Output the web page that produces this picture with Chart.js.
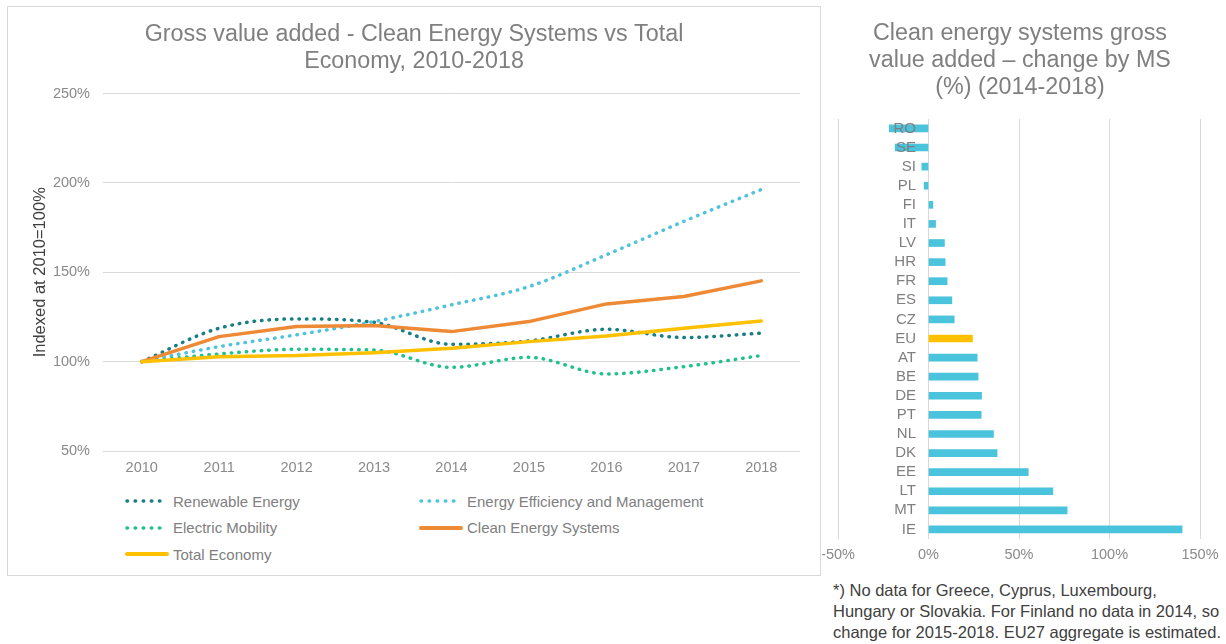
<!DOCTYPE html>
<html lang="en">
<head>
<meta charset="UTF-8">
<title>Clean Energy Systems - gross value added</title>
<script src="https://cdn.jsdelivr.net/npm/chart.js"></script>
<style>
  body {
    margin: 0;
    width: 1226px;
    height: 644px;
    overflow: hidden;
    background: #fff;
    position: relative;
    font-family: "Liberation Sans", Arial, sans-serif;
  }
  #box {
    position: absolute;
    left: 7px; top: 6px;
    width: 812px; height: 568px;
    border: 1px solid #d9d9d9;
  }
  #lineWrap { position: absolute; left: 8px; top: 7px; width: 812px; height: 480px; }
  #barWrap { position: absolute; left: 822px; top: 6px; width: 404px; height: 574px; }
  #legend {
    position: absolute;
    left: 125px; top: 488px;
    display: grid;
    grid-template-columns: 294px 300px;
    grid-auto-rows: 26.5px;
    font-size: 15px;
    color: #808080;
  }
  #legend .item { display: flex; align-items: center; white-space: nowrap; }
  #legend svg { margin-right: 3px; }
  #note {
    position: absolute;
    left: 833px; top: 580px;
    font-size: 16.5px;
    line-height: 21px;
    color: #404040;
    white-space: nowrap;
  }
</style>
</head>
<body>
<div id="box"></div>
<div id="lineWrap"><canvas id="lineChart"></canvas></div>
<div id="legend"></div>
<div id="barWrap"><canvas id="barChart"></canvas></div>
<div id="note">*) No data for Greece, Cyprus, Luxembourg,<br>Hungary or Slovakia. For Finland no data in 2014, so<br>change for 2015-2018. EU27 aggregate is estimated.</div>

<script>
  // left chart: index 2010 = 100%
  const years = ["2010", "2011", "2012", "2013", "2014", "2015", "2016", "2017", "2018"];
  const renewable = [100, 118.7, 123.9, 122.0, 109.7, 111.6, 118.1, 113.5, 115.9];
  const efficiency = [100, 108.4, 115.0, 122.4, 131.8, 142.0, 159.8, 178.5, 196.3];
  const mobility = [100, 104.3, 106.9, 106.5, 96.8, 102.4, 93.1, 97.2, 103.4];
  const cleanEnergy = [100, 114.0, 119.6, 120.2, 116.8, 122.4, 132.3, 136.4, 145.2];
  const totalEconomy = [100, 102.8, 103.4, 105.0, 107.5, 111.2, 114.4, 118.7, 122.8];

  // right chart: % change 2014-2018 by member state
  const countries = ["RO", "SE", "SI", "PL", "FI", "IT", "LV", "HR", "FR", "ES", "CZ", "EU",
                     "AT", "BE", "DE", "PT", "NL", "DK", "EE", "LT", "MT", "IE"];
  const changes = [-21.7, -18.4, -3.7, -2.4, 2.4, 3.9, 8.8, 9.2, 10.3, 12.9, 14.2, 24.3,
                   26.9, 27.4, 29.3, 29.1, 35.9, 37.9, 55.1, 68.7, 76.6, 140.1];

  const FONT = '"Liberation Sans", Arial, sans-serif';
  const GRID = "#d9d9d9";
  const TICK = "#8a8a8a";

  const dotted = { borderWidth: 3.5, borderDash: [0.5, 7], borderCapStyle: "round", cubicInterpolationMode: "monotone" };
  const solid = { borderWidth: 3.5, borderCapStyle: "round", borderJoinStyle: "round", tension: 0 };

  const lineSets = [
    { label: "Renewable Energy", data: renewable, borderColor: "#197d86", order: 5, ...dotted },
    { label: "Energy Efficiency and Management", data: efficiency, borderColor: "#4fc3dc", order: 4, ...dotted },
    { label: "Electric Mobility", data: mobility, borderColor: "#22c08c", order: 3, ...dotted },
    { label: "Clean Energy Systems", data: cleanEnergy, borderColor: "#ee8a35", order: 2, ...solid },
    { label: "Total Economy", data: totalEconomy, borderColor: "#ffc000", order: 1, ...solid }
  ];

  const lineChart = new Chart(document.getElementById("lineChart"), {
    type: "line",
    data: { labels: years, datasets: lineSets },
    options: {
      responsive: true,
      maintainAspectRatio: false,
      animation: false,
      elements: { point: { radius: 0 } },
      plugins: {
        legend: { display: false },
        tooltip: { enabled: false },
        title: {
          display: true,
          text: ["Gross value added - Clean Energy Systems vs Total", "Economy, 2010-2018"],
          color: "#7f7f7f",
          font: { family: FONT, size: 23.3, weight: "normal", lineHeight: 1.16 },
          padding: { top: 14, bottom: 18.5 }
        }
      },
      scales: {
        x: {
          offset: true,
          grid: { display: false, drawTicks: false },
          border: { display: false },
          ticks: { color: TICK, font: { family: FONT, size: 14.5 }, padding: 8, maxRotation: 0 },
          afterFit: s => { s.height = 36; s.paddingLeft = 0; s.paddingRight = 20; }
        },
        y: {
          min: 50, max: 250,
          grid: { color: GRID, drawTicks: false },
          border: { display: false },
          ticks: { stepSize: 50, color: TICK, font: { family: FONT, size: 14.5 }, padding: 13,
                   callback: v => v + "%" },
          title: { display: true, text: "Indexed at 2010=100%", color: "#404040",
                   font: { family: FONT, size: 16.5 }, padding: { top: 23, bottom: 0 } },
          afterFit: s => { s.width = 95; }
        }
      }
    }
  });

  // legend laid out in two columns like the original
  const legend = document.getElementById("legend");
  lineChart.data.datasets.forEach(ds => {
    const item = document.createElement("div");
    item.className = "item";
    const dash = ds.borderDash ? 'stroke-dasharray="0.5 7.6"' : "";
    item.innerHTML =
      '<svg width="45" height="8"><line x1="2" y1="4" x2="' + (ds.borderDash ? 41 : 42) + '" y2="4" stroke="' + ds.borderColor +
      '" stroke-width="' + (ds.borderDash ? 3.5 : 4) + '" stroke-linecap="round" ' + dash + '/></svg>' +
      '<span>' + ds.label + '</span>';
    legend.appendChild(item);
  });

  // country codes sit just left of the 0% line, over the bars
  const countryLabels = {
    id: "countryLabels",
    afterDatasetsDraw(chart) {
      const { ctx, scales: { x, y } } = chart;
      const x0 = x.getPixelForValue(0);
      ctx.save();
      ctx.font = "15px " + FONT;
      ctx.fillStyle = "#7f7f7f";
      ctx.textAlign = "right";
      ctx.textBaseline = "middle";
      chart.data.labels.forEach((lab, i) => ctx.fillText(lab, x0 - 12.5, y.getPixelForValue(i)));
      ctx.restore();
    }
  };

  new Chart(document.getElementById("barChart"), {
    type: "bar",
    data: {
      labels: countries,
      datasets: [{
        data: changes,
        backgroundColor: countries.map(c => c === "EU" ? "#ffc000" : "#4ac3dc"),
        barThickness: 7
      }]
    },
    options: {
      indexAxis: "y",
      responsive: true,
      maintainAspectRatio: false,
      animation: false,
      layout: { padding: { left: 0, right: 8, top: 0, bottom: 0 } },
      plugins: {
        legend: { display: false },
        tooltip: { enabled: false },
        title: {
          display: true,
          text: ["Clean energy systems gross", "value added \u2013 change by MS", "(%) (2014-2018)"],
          color: "#7f7f7f",
          font: { family: FONT, size: 23.3, weight: "normal", lineHeight: 1.15 },
          padding: { top: 14.5, bottom: 18 }
        }
      },
      scales: {
        x: {
          min: -50, max: 150,
          grid: { color: GRID, drawTicks: false },
          border: { display: false },
          ticks: { stepSize: 50, color: TICK, font: { family: FONT, size: 14.5 }, padding: 7,
                   callback: v => v + "%" },
          afterFit: s => { s.height = 41; s.paddingLeft = 16; s.paddingRight = 26; }
        },
        y: {
          grid: { display: false, drawTicks: false },
          border: { display: false },
          ticks: { display: false },
          afterFit: s => { s.width = 0; }
        }
      }
    },
    plugins: [countryLabels]
  });
</script>
</body>
</html>
